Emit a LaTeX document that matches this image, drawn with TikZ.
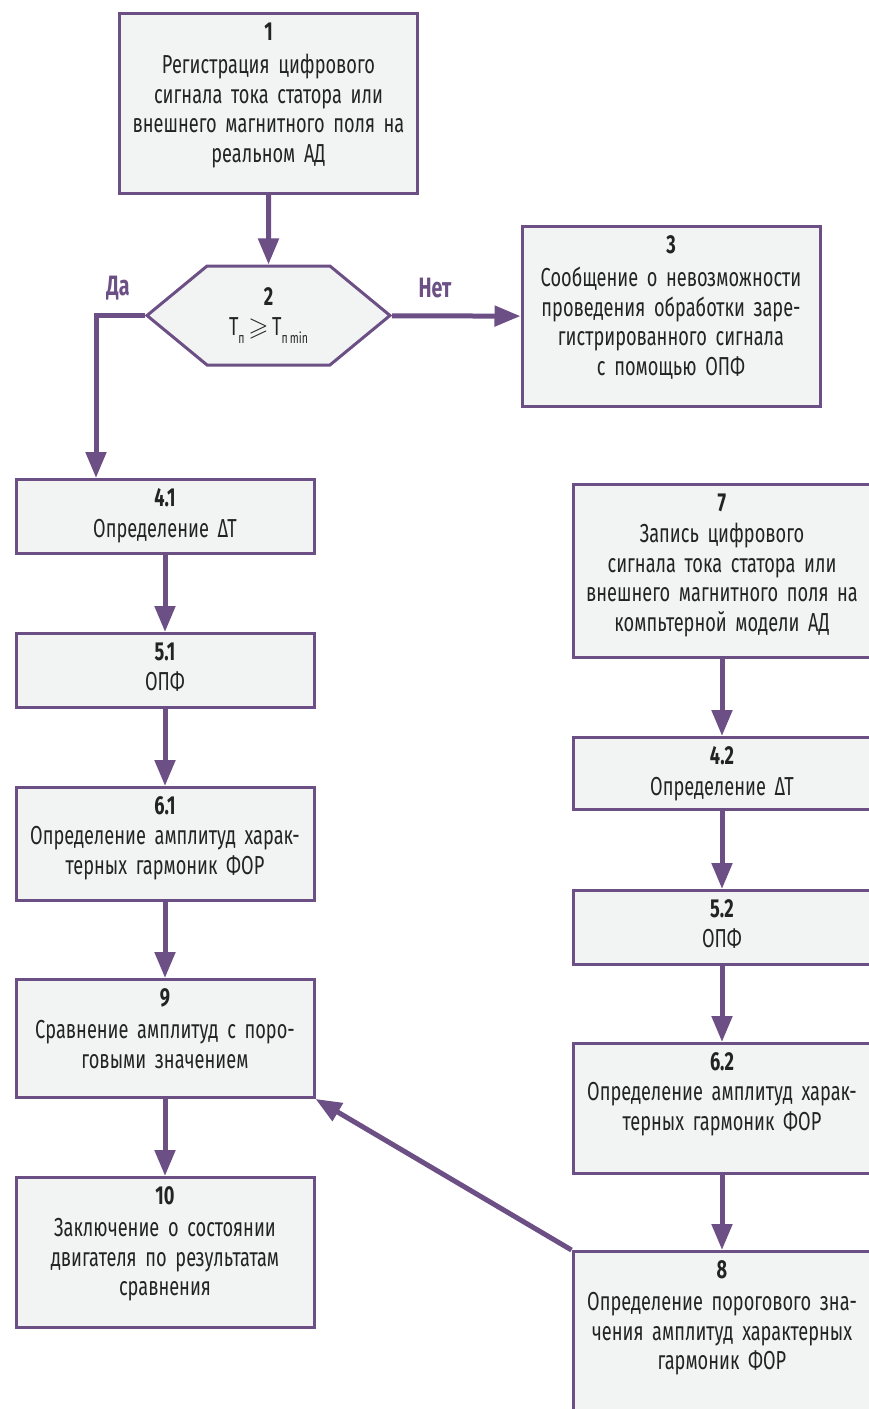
\documentclass[tikz,border=0pt]{standalone}
\usepackage{fontspec}
\usepackage{amssymb}
\setmainfont{Fira Sans}[FakeStretch=0.7, WordSpace=0.75]
\usepackage{tikz}
\usetikzlibrary{arrows.meta, positioning, shapes.symbols}

\definecolor{flowline}{RGB}{108,79,133}
\definecolor{boxfill}{RGB}{242,243,243}
\definecolor{boxtext}{RGB}{35,35,35}

\newcommand{\lowidx}[1]{\raisebox{-8pt}{\fontsize{15}{15}\selectfont #1}}

\begin{document}
\begin{tikzpicture}[x=1pt, y=-1pt, >={Triangle[length=26pt,width=20pt]},
    stepbox/.style={rectangle, draw=flowline, line width=3pt, fill=boxfill,
      text=boxtext, text width=294pt, inner xsep=2pt, inner ysep=9pt,
      align=center, anchor=north, font=\fontsize{26}{29.5}\selectfont},
    decide/.style={signal, signal to=west and east, signal pointer angle=79,
      draw=flowline, line width=3pt, fill=boxfill, text=boxtext,
      minimum width=243pt, minimum height=99pt, inner sep=0pt, align=center,
      font=\fontsize{26}{29.5}\selectfont},
    conn/.style={->, draw=flowline, line width=5pt},
    answer/.style={text=flowline, font=\bfseries\fontsize{28}{30}\selectfont}]
  \path[use as bounding box, clip] (0,0) rectangle (869,1409);

  % left branch
  \node[stepbox, text depth=144pt] (b1) at (268.5,12) {
    \textbf{1}\\[4pt]
    Регистрация цифрового\\
    сигнала тока статора или\\
    внешнего магнитного поля на\\
    реальном АД
  };
  \node[decide] (d2) at (268.5,315.5) {
    \textbf{2}\\
    T\lowidx{п} \ensuremath{\geqslant} T\lowidx{п min}
  };
  \node[stepbox, text depth=144pt] (b3) at (671,225) {
    \textbf{3}\\[4pt]
    Сообщение о невозможности\\
    проведения обработки заре-\\
    гистрированного сигнала\\
    с помощью ОПФ
  };
  \node[answer] (yes) at (118,288) {Да};
  \node[answer] (no) at (435,288) {Нет};

  \node[stepbox, text depth=38pt] (b41) at (165,478) {
    \textbf{4.1}\\[1pt]
    Определение ΔТ
  };
  \node[stepbox, text depth=38pt] (b51) at (165,632) {
    \textbf{5.1}\\[1pt]
    ОПФ
  };
  \node[stepbox, text depth=77pt] (b61) at (165,786) {
    \textbf{6.1}\\[1pt]
    Определение амплитуд харак-\\
    терных гармоник ФОР
  };
  \node[stepbox, text depth=82pt] (b9) at (165,978) {
    \textbf{9}\\[3pt]
    Сравнение амплитуд с поро-\\
    говыми значением
  };
  \node[stepbox, text depth=114pt] (b10) at (165,1176) {
    \textbf{10}\\[3pt]
    Заключение о состоянии\\
    двигателя по результатам\\
    сравнения
  };

  % model branch
  \node[stepbox, text depth=137pt] (b7) at (722,483) {
    \textbf{7}\\[2pt]
    Запись цифрового\\
    сигнала тока статора или\\
    внешнего магнитного поля на\\
    компьтерной модели АД
  };
  \node[stepbox, text depth=36pt] (b42) at (722,736) {
    \textbf{4.2}\\[1pt]
    Определение ΔТ
  };
  \node[stepbox, text depth=38pt] (b52) at (722,889) {
    \textbf{5.2}\\[1pt]
    ОПФ
  };
  \node[stepbox, text depth=94pt] (b62) at (722,1042) {
    \textbf{6.2}\\[1pt]
    Определение амплитуд харак-\\
    терных гармоник ФОР
  };
  \node[stepbox, text depth=163pt] (b8) at (722,1250) {
    \textbf{8}\\[3pt]
    Определение порогового зна-\\
    чения амплитуд характерных\\
    гармоник ФОР
  };

  \draw[conn] (b1) -- (d2);
  \draw[conn] (d2) -- (b3);
  \draw[conn] (d2.west) -| ([xshift=-69pt]b41.north);
  \draw[conn] (b41) -- (b51);
  \draw[conn] (b51) -- (b61);
  \draw[conn] (b61) -- (b9);
  \draw[conn] (b9) -- (b10);
  \draw[conn] (b7) -- (b42);
  \draw[conn] (b42) -- (b52);
  \draw[conn] (b52) -- (b62);
  \draw[conn] (b62) -- (b8);
  \draw[conn] (b8.north west) -- (b9.south east);
\end{tikzpicture}
\end{document}
